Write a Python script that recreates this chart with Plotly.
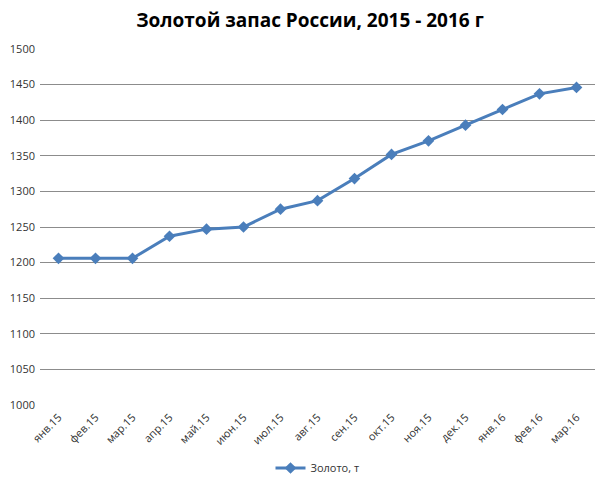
import plotly.graph_objects as go

months = ["янв.15", "фев.15", "мар.15", "апр.15", "май.15", "июн.15", "июл.15",
          "авг.15", "сен.15", "окт.15", "ноя.15", "дек.15", "янв.16", "фев.16", "мар.16"]
gold = [1206, 1206, 1206, 1237, 1247, 1250, 1275, 1287, 1318, 1352, 1371, 1393, 1415, 1437, 1446]

# page body has a default 8px margin, so offsets below account for it
fig = go.Figure()
fig.add_trace(go.Scatter(
    x=months, y=gold, mode="lines+markers", name="Золото, т",
    line=dict(color="#4A7EBB", width=3),
    marker=dict(symbol="diamond", size=9, color="#4A7EBB"),
))

fig.update_layout(
    width=604, height=483,
    margin=dict(l=32, r=17, t=41, b=86, autoexpand=False),
    paper_bgcolor="white", plot_bgcolor="white",
    font=dict(family="Open Sans, sans-serif", size=11, color="#333333"),
    title=dict(text="<b>Золотой запас России, 2015 - 2016 г</b>", x=0.5, xanchor="center",
               xref="container", yref="container", y=1 - 12 / 483, yanchor="middle",
               font=dict(family="Open Sans, sans-serif", size=19, color="black")),
    showlegend=True,
    legend=dict(orientation="h", x=0.5, xanchor="center",
                yref="container", y=1 - 460 / 483, yanchor="middle",
                font=dict(size=11, color="#333333")),
)
fig.update_xaxes(range=[-0.5, len(months) - 0.5], tickangle=-45, showgrid=False,
                 showline=False, ticks="", automargin=False, ticklabelstandoff=3,
                 tickfont=dict(size=11))
fig.update_yaxes(range=[1000, 1500], dtick=50, showgrid=True, gridcolor="#8C8C8C",
                 gridwidth=1, zeroline=False, showline=False, ticks="",
                 automargin=False, ticklabelstandoff=4, tickfont=dict(size=11))

fig.write_html("out.html")
